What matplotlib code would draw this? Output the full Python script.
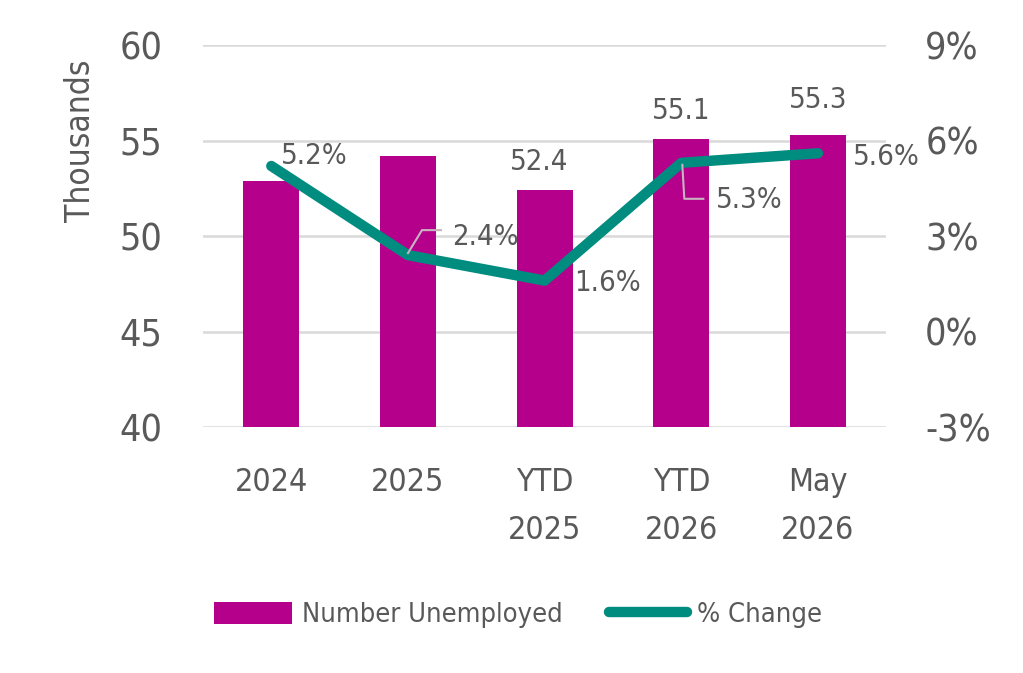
import matplotlib
matplotlib.use("Agg")
import matplotlib.pyplot as plt
from matplotlib import font_manager as fm
from matplotlib.lines import Line2D
from matplotlib.patches import Patch

categories = ["2024", "2025", "YTD\n2025", "YTD\n2026", "May\n2026"]
unemployed = [52.9, 54.2, 52.4, 55.1, 55.3]
pct_change = [5.2, 2.4, 1.6, 5.3, 5.6]
bar_labels = [None, None, "52.4", "55.1", "55.3"]
pct_labels = ["5.2%", "2.4%", "1.6%", "5.3%", "5.6%"]
left_ticks = [40, 45, 50, 55, 60]
right_ticks = [-3, 0, 3, 6, 9]

names = {f.name for f in fm.fontManager.ttflist}
if "Liberation Sans Narrow" in names:
    FONT = dict(family="Liberation Sans Narrow")
else:
    FONT = dict(family="DejaVu Sans", stretch="condensed")

plt.rcParams["font.family"] = FONT["family"]
if "stretch" in FONT:
    plt.rcParams["font.stretch"] = FONT["stretch"]

TXT = "#595959"
BAR = "#B5008C"
LINE = "#008C7E"
GRID = "#D9D9D9"
LEAD = "#C8B4C0"

fig = plt.figure(figsize=(10.23, 6.73), dpi=100)
ax = fig.add_axes([0.1984, 0.3655, 0.668, 0.5676])
ax2 = ax.twinx()

x = list(range(len(categories)))
ax.bar(x, unemployed, width=0.41, color=BAR, zorder=2)
ax.set_ylim(40, 60)
ax.set_xlim(-0.5, 4.5)
ax.set_yticks(left_ticks)
ax.set_yticklabels([str(t) for t in left_ticks])
ax.yaxis.grid(True, color=GRID, linewidth=1.8, zorder=0)
ax.set_axisbelow(True)
for s in ax.spines.values():
    s.set_visible(False)
for s in ax2.spines.values():
    s.set_visible(False)
ax.tick_params(axis="y", length=0, pad=29, labelsize=27, labelcolor=TXT)
ax.tick_params(axis="x", length=0, pad=29, labelsize=23, labelcolor=TXT)
ax.set_xticks(x)
ax.set_xticklabels(categories, linespacing=1.68)
ax.set_ylabel("Thousands", fontsize=24, color=TXT)
ax.yaxis.set_label_coords(-0.155, (141 - 427) / (45 - 427))

ax2.plot(x, pct_change, color=LINE, linewidth=7.5, solid_capstyle="round",
         solid_joinstyle="round", zorder=3)
ax2.set_ylim(-3, 9)
ax2.set_yticks(right_ticks)
ax2.set_yticklabels([f"{t}%" for t in right_ticks])
ax2.tick_params(axis="y", length=0, pad=28, labelsize=27, labelcolor=TXT)
ax.set_zorder(ax2.get_zorder() - 1)
ax.patch.set_visible(True)
ax2.patch.set_visible(False)

# bar value labels
offs = {2: (-4, 10), 3: (0, 10), 4: (0, 15)}
for i, lab in enumerate(bar_labels):
    if lab:
        ax.annotate(lab, (i, unemployed[i]), xytext=offs[i],
                    textcoords="offset points", ha="center", va="bottom",
                    fontsize=21, color=TXT)

# percent labels
fs = 21
ax2.annotate(pct_labels[0], (0, pct_change[0]), xytext=(7, -3), textcoords="offset points",
             ha="left", va="bottom", fontsize=fs, color=TXT)
ax2.annotate(pct_labels[1], (1, pct_change[1]), xytext=(32, 13), textcoords="offset points",
             ha="left", va="center", fontsize=fs, color=TXT)
ax2.annotate(pct_labels[2], (2, pct_change[2]), xytext=(21, -2), textcoords="offset points",
             ha="left", va="center", fontsize=fs, color=TXT)
ax2.annotate(pct_labels[3], (3, pct_change[3]), xytext=(25, -27), textcoords="offset points",
             ha="left", va="center", fontsize=fs, color=TXT)
ax2.annotate(pct_labels[4], (4, pct_change[4]), xytext=(25, -3), textcoords="offset points",
             ha="left", va="center", fontsize=fs, color=TXT)

# leader lines (in pixel offsets from the points)
def leader(i, pts):
    px, py = ax2.transData.transform((i, pct_change[i]))
    inv = ax2.transData.inverted()
    xs, ys = [], []
    for dx, dy in pts:
        a, b = inv.transform((px + dx, py + dy))
        xs.append(a)
        ys.append(b)
    ax2.plot(xs, ys, color=LEAD, linewidth=1.5, zorder=4)

fig.canvas.draw()
leader(1, [(0, 2), (14, 25), (33, 25)])
leader(3, [(1, -2), (3, -36), (22, -36)])

handles = [Patch(facecolor=BAR, edgecolor="none"),
           Line2D([0], [0], color=LINE, linewidth=7.5, solid_capstyle="round")]
leg = fig.legend(handles, ["Number Unemployed", "% Change"], loc="center",
                 bbox_to_anchor=(0.506, 0.086), ncol=2, frameon=False,
                 fontsize=19.5, labelcolor=TXT, handlelength=2.9, handleheight=0.9,
                 handletextpad=0.35, columnspacing=1.7)

fig.savefig("out.png", dpi=100, facecolor="white")
